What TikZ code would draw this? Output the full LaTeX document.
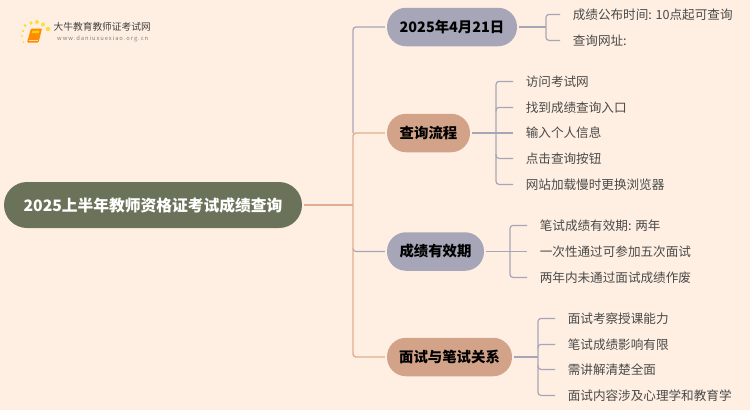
\documentclass[tikz,border=0pt]{standalone}
\usepackage{fontspec}
\setmainfont{Noto Sans CJK SC}
\definecolor{bg}{HTML}{FFEFE2}
\definecolor{rootc}{HTML}{6A7359}
\definecolor{gr}{HTML}{A6A6B8}
\definecolor{orc}{HTML}{D3A389}
\definecolor{orl}{HTML}{E0AD90}
\definecolor{txt}{HTML}{4A4A4A}
\tikzset{
  rootbox/.style={fill=rootc,rounded corners=23pt,text=white,font=\fontsize{15.75}{16}\selectfont\bfseries,minimum height=46pt,minimum width=298pt,inner sep=0pt},
  topbox/.style={rounded corners=19pt,text=black,font=\fontsize{14.4}{15}\selectfont\bfseries,minimum height=38.5pt,inner sep=0pt},
  leaf/.style={anchor=west,text=txt,font=\fontsize{12.6}{14}\selectfont,inner ysep=0pt,inner xsep=12.6pt},
  gl/.style={draw=gr,line width=1.2pt,rounded corners=3pt},
  ol/.style={draw=orl,line width=1.4pt,rounded corners=3pt}
}
\begin{document}
\begin{tikzpicture}[x=1pt,y=-1pt]
\useasboundingbox[fill=bg] (0,0) rectangle (750,410);
% logo
\foreach \px/\py/\r in {25/25.5/1.6,31/23/1.8,37/22/2,43/24.5/2,48/29/2.3,23/31/1.3,22/36/1.1,23.5/42/1}
  \fill[yellow!75!orange,opacity=.75] (\px,\py) circle (\r);
\fill[orange!90!yellow,rounded corners=1pt] (31,28.5) -- (42,28.5) -- (38.5,42.5) -- (27,42.5) -- cycle;
\fill[yellow!70!orange] (32.5,30.5) -- (39.5,30.5) -- (38.8,33) -- (31.8,33) -- cycle;
\draw[orange!30!white,line width=.6pt] (28.5,40.6) -- (38,40.6);
\node[anchor=west,inner sep=0pt,text=black!75,font=\fontsize{9.7}{11}\selectfont] (logotext) at (53.5,27) {大牛教育教师证考试网};
\node[anchor=west,inner sep=0pt,text=black!50,font=\fontsize{5.8}{7}\selectfont,text width=91pt] (logourl) at (57,39) {w\hfill w\hfill w\hfill .\hfill d\hfill a\hfill n\hfill i\hfill u\hfill x\hfill u\hfill e\hfill x\hfill i\hfill a\hfill o\hfill .\hfill o\hfill r\hfill g\hfill .\hfill c\hfill n};
% nodes
\node[rootbox] (root) at (153,205) {2025上半年教师资格证考试成绩查询};
\node[topbox,fill=gr,minimum width=130pt] (a) at (452,27) {2025年4月21日};
\node[topbox,fill=orc,minimum width=83pt] (b) at (428.5,133) {查询流程};
\node[topbox,fill=gr,minimum width=97pt] (c) at (435.5,251.5) {成绩有效期};
\node[topbox,fill=orc,minimum width=125pt] (d) at (449.5,357) {面试与笔试关系};
% leaves
\node[leaf] (a1) at (560,14.4) {成绩公布时间: 10点起可查询};
\node[leaf] (a2) at (560,40.4) {查询网址:};
\node[leaf] (b1) at (513,81.4) {访问考试网};
\node[leaf] (b2) at (513,107.4) {找到成绩查询入口};
\node[leaf] (b3) at (513,133) {输入个人信息};
\node[leaf] (b4) at (513,158.4) {点击查询按钮};
\node[leaf] (b5) at (513,184.4) {网站加载慢时更换浏览器};
\node[leaf] (c1) at (527,225.4) {笔试成绩有效期: 两年};
\node[leaf] (c2) at (527,251.5) {一次性通过可参加五次面试};
\node[leaf] (c3) at (527,277.4) {两年内未通过面试成绩作废};
\node[leaf] (d1) at (555,318.4) {面试考察授课能力};
\node[leaf] (d2) at (555,344.4) {笔试成绩影响有限};
\node[leaf] (d3) at (555,369.4) {需讲解清楚全面};
\node[leaf] (d4) at (555,395.4) {面试内容涉及心理学和教育学};
% junctions
\coordinate (t) at (353,205);
\coordinate (ja) at (546,27);
\coordinate (jb) at (496,133);
\coordinate (jc) at (510,251.5);
\coordinate (jd) at (538,357);
% trunk
\draw[gl] ([xshift=-2pt]a.west) -| (t |- b.west);
\draw[gl] (t |- c.west) ++(0,-3) |- ([xshift=-2pt]c.west);
\draw[ol] ([xshift=-2pt]b.west) -| (t |- d.west) -- ([xshift=-2pt]d.west);
\draw[ol,rounded corners=0pt] ([xshift=2pt]root.east) -- (t);
% leaf connectors
\draw[gl,rounded corners=0pt] ([xshift=2pt]a.east) -- (ja);
\draw[gl] (a1.west) -| (ja) |- (a2.west);
\draw[gl,rounded corners=0pt] ([xshift=2pt]b.east) -- (b3.west);
\draw[gl] (b1.west) -| (jb) |- (b5.west);
\draw[gl] (jb |- b2.west) ++(0,4) |- (b2.west);
\draw[gl] (jb |- b4.west) ++(0,-4) |- (b4.west);
\draw[gl,rounded corners=0pt] ([xshift=2pt]c.east) -- (c2.west);
\draw[gl] (c1.west) -| (jc) |- (c3.west);
\draw[gl,rounded corners=0pt] ([xshift=2pt]d.east) -- (jd);
\draw[gl] (d1.west) -| (jd) |- (d4.west);
\draw[gl] (jd |- d2.west) ++(0,4) |- (d2.west);
\draw[gl] (jd |- d3.west) ++(0,-4) |- (d3.west);
\end{tikzpicture}
\end{document}
